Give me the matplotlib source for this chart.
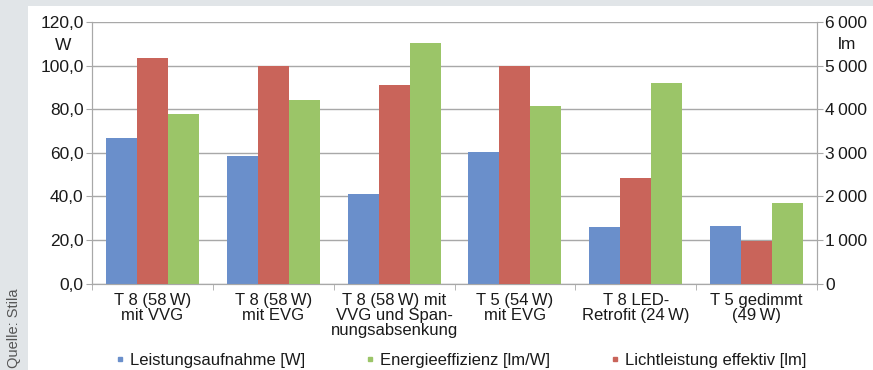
import numpy as np
import matplotlib
matplotlib.use("Agg")
import matplotlib.pyplot as plt
from matplotlib.lines import Line2D
from matplotlib.patches import Rectangle

plt.rcParams['font.family'] = ['Liberation Sans', 'DejaVu Sans']

# data
categories = ["T 8 (58\u2009W)\nmit VVG",
              "T 8 (58\u2009W)\nmit EVG",
              "T 8 (58\u2009W) mit\nVVG und Span-\nnungsabsenkung",
              "T 5 (54\u2009W)\nmit EVG",
              "T 8 LED-\nRetrofit (24\u2009W)",
              "T 5 gedimmt\n(49\u2009W)"]
leistung_w = [67, 58.6, 41, 60.5, 26, 26.5]          # left axis, W
lichtleistung_lm = [5190, 4990, 4570, 4990, 2430, 980]  # right axis, lm
effizienz_lmw = [77.7, 84.3, 110.3, 81.5, 92, 36.8]  # left axis

left_ticks = [0, 20, 40, 60, 80, 100, 120]
left_labels = ["0,0", "20,0", "40,0", "60,0", "80,0", "100,0", "120,0"]
right_ticks = [0, 1000, 2000, 3000, 4000, 5000, 6000]
right_labels = ["0", "1\u2009000", "2\u2009000", "3\u2009000", "4\u2009000", "5\u2009000", "6\u2009000"]

c_blue = "#6a8fcb"
c_red = "#c9645a"
c_green = "#9bc568"
grid_c = "#a8a8a8"
bg = "#e1e5e8"
txt_c = "#1a1a1a"

W, H = 873, 370
fig = plt.figure(figsize=(W / 100, H / 100), dpi=100)
fig.patch.set_facecolor(bg)
# white panel behind the chart
fig.patches.append(Rectangle((28 / W, 0), 1, (H - 6) / H, transform=fig.transFigure,
                             facecolor="white", edgecolor="none", zorder=-10))

ax = fig.add_axes([92 / W, (H - 283.5) / H, 725 / W, 261.2 / H])
ax.set_facecolor("none")
ax2 = ax.twinx()

x = np.arange(len(categories))
bw = 0.257
ax.bar(x - bw, leistung_w, bw, color=c_blue, zorder=3)
ax2.bar(x, lichtleistung_lm, bw, color=c_red, zorder=3)
ax.bar(x + bw, effizienz_lmw, bw, color=c_green, zorder=3)

ax.set_xlim(-0.5, len(categories) - 0.5)
ax.set_ylim(0, 120)
ax2.set_ylim(0, 6000)
ax.set_yticks(left_ticks)
ax.set_yticklabels(left_labels, fontsize=12.5, color=txt_c)
ax2.set_yticks(right_ticks)
ax2.set_yticklabels(right_labels, fontsize=12.5, color=txt_c)
ax.yaxis.grid(True, color=grid_c, lw=1, zorder=0)
ax.set_axisbelow(True)

ax.set_xticks(x)
ax.set_xticklabels(categories, fontsize=12, linespacing=1.0, color=txt_c)
ax.tick_params(axis='x', length=0, pad=7)
ax.set_xticks(np.arange(len(categories) + 1) - 0.5, minor=True)
ax.tick_params(axis='x', which='minor', length=4, color=grid_c)
ax.tick_params(axis='y', length=4, color=grid_c, pad=2)
ax2.tick_params(axis='y', length=4, color=grid_c, pad=2)

for a in (ax, ax2):
    for s in a.spines.values():
        s.set_color(grid_c)
    a.spines['top'].set_visible(False)

# units under top tick labels
ax.text(-0.04, 0.913, "W", transform=ax.transAxes, ha='center', va='center',
        fontsize=12.5, color=txt_c)
ax.text(1.041, 0.915, "lm", transform=ax.transAxes, ha='center', va='center',
        fontsize=12.5, color=txt_c)

# legend
handles = [Line2D([], [], ls='none', marker='s', ms=3.5, color=c_blue),
           Line2D([], [], ls='none', marker='s', ms=3.5, color=c_green),
           Line2D([], [], ls='none', marker='s', ms=3.5, color=c_red)]
fig.legend(handles, ["Leistungsaufnahme [W]", "Energieeffizienz [lm/W]",
                     "Lichtleistung effektiv [lm]"],
           loc='center', bbox_to_anchor=(461 / W, (H - 360) / H), ncol=3, frameon=False,
           fontsize=12, handletextpad=0.3, columnspacing=3.6, handlelength=0.6,
           labelcolor=txt_c)

fig.text(14 / W, 2 / H, "Quelle: Stila", rotation=90, ha='center', va='bottom',
         fontsize=10.5, color="#555555")

fig.savefig("out.png", dpi=100, facecolor=fig.get_facecolor())
